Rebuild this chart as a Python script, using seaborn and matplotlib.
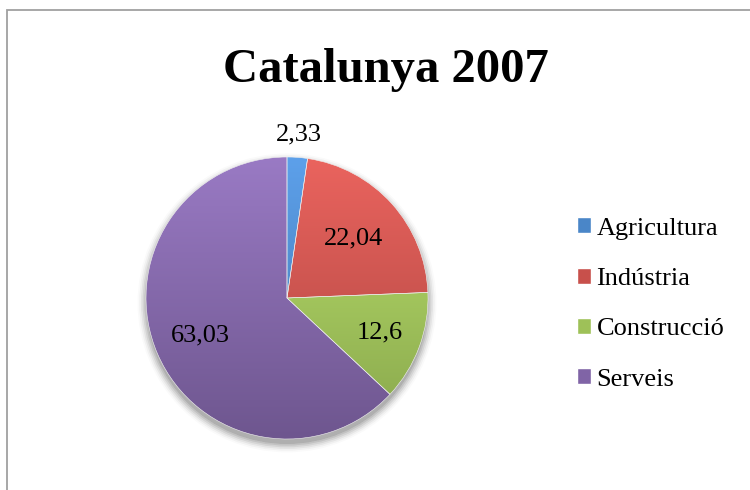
import numpy as np
import matplotlib
matplotlib.use("Agg")
import matplotlib.pyplot as plt
import seaborn as sns
from matplotlib.patches import Rectangle, Circle
from matplotlib.colors import to_rgb

# Data
sectors = ["Agricultura", "Indústria", "Construcció", "Serveis"]
shares = [2.33, 22.04, 12.6, 63.03]
share_labels = ["2,33", "22,04", "12,6", "63,03"]
colors = ["#4A86C8", "#C8504B", "#9EC158", "#8064A6"]
label_radius = [1.16, 0.63, 0.70, 0.67]

sns.set_theme(style="white")
plt.rcParams["font.family"] = ["Liberation Serif", "DejaVu Serif"]
plt.rcParams["text.color"] = "black"

fig = plt.figure(figsize=(7.5, 4.9), dpi=100)
W, H = 750, 490

# chart border (Excel style)
fig.patches.append(Rectangle((7 / W, -0.05), 1.0, (490 - 10) / H + 0.05,
                             transform=fig.transFigure, fill=False,
                             edgecolor="#A0A0A0", linewidth=1.3))

cx, cy, r = 287, 490 - 298, 141
ax = fig.add_axes([(cx - r) / W, (cy - r) / H, 2 * r / W, 2 * r / H])

# soft shadow under the pie
for i, a in enumerate(np.linspace(0.10, 0.02, 6)):
    ax.add_patch(Circle((0.0, -0.035), 1.0 + 0.012 * i, color="black",
                        alpha=a, linewidth=0, zorder=0, clip_on=False))

wedges, _ = ax.pie(shares, colors=colors, startangle=90, counterclock=False,
                   wedgeprops=dict(linewidth=0.4, edgecolor="#F0F0F0"))

# vertical gradient fill like Excel
for w, c in zip(wedges, colors):
    base = np.array(to_rgb(c))
    top = np.clip(base * 1.12 + 0.04, 0, 1)
    bot = base * 0.86
    t = np.linspace(0, 1, 256)[:, None, None]
    grad = top * (1 - t) + bot * t
    grad = np.repeat(grad, 2, axis=1)
    im = ax.imshow(grad, extent=[-1, 1, -1, 1], origin="upper", zorder=2,
                   aspect="auto")
    im.set_clip_path(w)
    w.set_zorder(3)
    w.set_facecolor("none")

for w, txt, lr in zip(wedges, share_labels, label_radius):
    ang = np.deg2rad((w.theta1 + w.theta2) / 2)
    ax.text(lr * np.cos(ang), lr * np.sin(ang), txt, ha="center",
            va="center", fontsize=19, color="black", zorder=5)

ax.set_xlim(-1, 1)
ax.set_ylim(-1, 1)
ax.set_aspect("equal")
ax.axis("off")

fig.text(386 / W, 1 - 70 / H, "Catalunya 2007", ha="center", va="center",
         fontsize=35, fontweight="bold", color="black")

handles = [Rectangle((0, 0), 1, 1, facecolor=c) for c in colors]
fig.legend(handles, sectors, loc="center left",
           bbox_to_anchor=(553 / W, 1 - 304 / H), frameon=False,
           fontsize=19, handlelength=0.55, handleheight=0.55,
           handletextpad=0.2, labelspacing=1.06, labelcolor="black")

fig.savefig("out.png", dpi=100, facecolor="white")
